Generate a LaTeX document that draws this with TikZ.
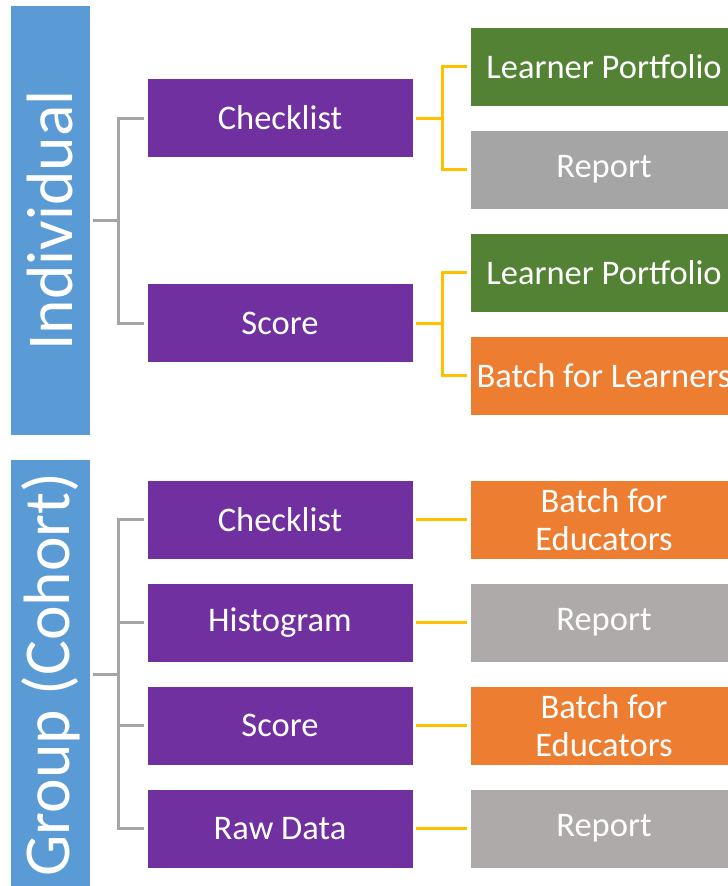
\documentclass[tikz,border=0pt]{standalone}
\usepackage{fontspec}
\setmainfont{Carlito}
\usepackage{graphicx}
\usetikzlibrary{positioning,calc}
\definecolor{barblue}{HTML}{5B9BD5}
\definecolor{viewpurple}{HTML}{7030A0}
\definecolor{outgreen}{HTML}{548235}
\definecolor{outorange}{HTML}{ED7D31}
\definecolor{outgray}{HTML}{A5A5A5}
\definecolor{outwarmgray}{HTML}{AEAAAA}
\definecolor{linegray}{HTML}{A5A5A5}
\definecolor{lineyellow}{HTML}{FFC000}
\tikzstyle{category}=[rectangle,fill=barblue,text=white,minimum width=79pt,minimum height=429pt,font=\fontsize{65.5}{70}\selectfont]
\tikzstyle{viewbox}=[rectangle,fill=viewpurple,draw=white,line width=0.6pt,text=white,minimum width=266pt,minimum height=79pt,align=center,font=\fontsize{34.5}{38}\selectfont]
\tikzstyle{outbox}=[viewbox,minimum width=268pt]
\tikzstyle{treeline}=[draw=linegray,line width=3pt]
\tikzstyle{yellowline}=[draw=lineyellow,line width=3pt]

\begin{document}
\begin{tikzpicture}[x=1pt,y=-1pt,inner sep=0pt]
\def \vx {280};
\def \ox {604};
\def \gap {3pt};

\fill[white] (0,0) rectangle (728,886);
\clip (0,0) rectangle (728,886);

% side bars
\node[category] (ind) at (50.5,220.5) {\rotatebox{90}{Individual}};
\node[category] (grp) at (50.5,674.5) {\rotatebox{90}{Group (Cohort)}};

% individual
\node[viewbox] (ichk) at (\vx,118) {Checklist};
\node[viewbox] (iscr) at (\vx,323) {Score};

\node[outbox,fill=outgreen] (ilpa) at (\ox,66.5) {Learner Portfolio};
\node[outbox,fill=outgray] (irep) at (\ox,169.5) {Report};
\node[outbox,fill=outgreen] (ilpb) at (\ox,272.5) {Learner Portfolio};
\node[outbox,fill=outorange] (ibat) at (\ox,375.5) {Batch for Learners};

% group
\node[viewbox] (gchk) at (\vx,519.5) {Checklist};
\node[viewbox] (ghis) at (\vx,622.5) {Histogram};
\node[viewbox] (gscr) at (\vx,725.5) {Score};
\node[viewbox] (graw) at (\vx,828.5) {Raw Data};

\node[outbox,fill=outorange] (gbata) at (\ox,519.5) {Batch for\\Educators};
\node[outbox,fill=outwarmgray] (grepa) at (\ox,622.5) {Report};
\node[outbox,fill=outorange] (gbatb) at (\ox,725.5) {Batch for\\Educators};
\node[outbox,fill=outwarmgray] (grepb) at (\ox,828.5) {Report};

% gray tree
\coordinate (indfork) at ($(ind.east)+(28,0)$);
\draw[treeline,shorten <=\gap] (ind.east) -- (indfork);
\draw[treeline,shorten <=\gap,shorten >=\gap] (ichk.west) -| (indfork) |- (iscr.west);

\coordinate (grpfork) at ($(grp.east)+(28,0)$);
\draw[treeline,shorten <=\gap] (grp.east) -- (grpfork);
\draw[treeline,shorten <=\gap,shorten >=\gap] (gchk.west) -| (grpfork) |- (graw.west);
\foreach \n in {ghis,gscr} {
	\draw[treeline,shorten >=\gap] (grpfork |- \n.west) -- (\n.west);
};

% yellow links
\coordinate (chkfork) at ($(ichk.east)+(29,0)$);
\draw[yellowline,shorten <=\gap] (ichk.east) -- (chkfork);
\draw[yellowline,shorten <=\gap,shorten >=\gap] (ilpa.west) -| (chkfork) |- (irep.west);

\coordinate (scrfork) at ($(iscr.east)+(29,0)$);
\draw[yellowline,shorten <=\gap] (iscr.east) -- (scrfork);
\draw[yellowline,shorten <=\gap,shorten >=\gap] (ilpb.west) -| (scrfork) |- (ibat.west);

\draw[yellowline,shorten <=\gap,shorten >=\gap] (gchk) -- (gbata);
\draw[yellowline,shorten <=\gap,shorten >=\gap] (ghis) -- (grepa);
\draw[yellowline,shorten <=\gap,shorten >=\gap] (gscr) -- (gbatb);
\draw[yellowline,shorten <=\gap,shorten >=\gap] (graw) -- (grepb);

\end{tikzpicture}
\end{document}
